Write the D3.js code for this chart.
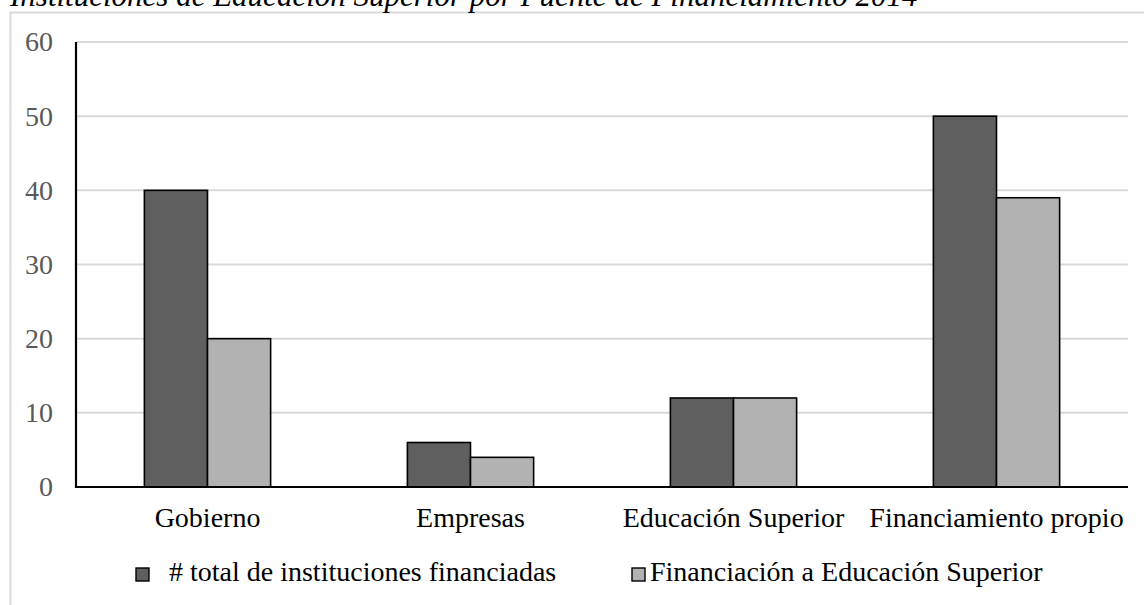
<!DOCTYPE html>
<html>
<head>
<meta charset="utf-8">
<script src="https://cdn.jsdelivr.net/npm/d3@7/dist/d3.min.js"></script>
<style>
  html, body { margin: 0; padding: 0; background: #fff; overflow: hidden; }
  svg { display: block; font-family: "Liberation Serif", "Times New Roman", serif; }
</style>
</head>
<body>
<svg id="chart" width="1144" height="605"></svg>
<script>
// Funding sources and series
const categories = ["Gobierno", "Empresas", "Educación Superior", "Financiamiento propio"];
const seriesNames = ["# total de instituciones financiadas", "Financiación a Educación Superior"];
const totalInstituciones = [40, 6, 12, 50];
const financiacionEducacion = [20, 4, 12, 39];
const yTicks = [0, 10, 20, 30, 40, 50, 60];
const titleText = "Instituciones de Educación Superior por Fuente de Financiamiento 2014";

const seriesValues = [totalInstituciones, financiacionEducacion];
const seriesColors = ["#5f5f5f", "#b2b2b2"];

const svg = d3.select("#chart");
const plot = { left: 76, right: 1128, top: 42, bottom: 487 };
const labelSize = 28;

// Outer frame of the chart area
svg.append("rect")
  .attr("x", 10.5).attr("y", 12.5)
  .attr("width", 1200).attr("height", 700)
  .attr("fill", "#fff").attr("stroke", "#d9d9d9").attr("stroke-width", 2);

// Caption, sitting just above the frame
svg.append("text")
  .attr("x", 10).attr("y", 6)
  .attr("font-style", "italic")
  .attr("font-size", 31)
  .attr("fill", "#000")
  .text(titleText);

const x0 = d3.scaleBand()
  .domain(categories)
  .range([plot.left, plot.right])
  .paddingInner(0.52)
  .paddingOuter(0.26);

const x1 = d3.scaleBand()
  .domain(d3.range(seriesNames.length))
  .range([0, x0.bandwidth()]);

const y = d3.scaleLinear()
  .domain([0, 60])
  .range([plot.bottom, plot.top]);

// Horizontal gridlines
svg.append("g")
  .selectAll("line")
  .data(yTicks.filter(t => t > 0))
  .join("line")
  .attr("x1", plot.left).attr("x2", plot.right)
  .attr("y1", d => y(d)).attr("y2", d => y(d))
  .attr("stroke", "#d9d9d9").attr("stroke-width", 2);

// Y axis labels
const yAxis = d3.axisLeft(y).tickValues(yTicks).tickSize(0).tickPadding(23);
const gy = svg.append("g")
  .attr("transform", `translate(${plot.left},0)`)
  .call(yAxis);
gy.select(".domain").remove();
gy.selectAll("text")
  .attr("font-family", "Liberation Serif, Times New Roman, serif")
  .attr("font-size", labelSize)
  .attr("fill", "#595959")
  .attr("dy", "0.32em");

// Bars
const groups = svg.append("g")
  .selectAll("g")
  .data(categories)
  .join("g")
  .attr("transform", d => `translate(${x0(d)},0)`);

groups.selectAll("rect")
  .data((d, i) => seriesValues.map((vals, s) => ({ s, v: vals[i] })))
  .join("rect")
  .attr("x", d => x1(d.s))
  .attr("y", d => y(d.v))
  .attr("width", x1.bandwidth())
  .attr("height", d => y(0) - y(d.v))
  .attr("fill", d => seriesColors[d.s])
  .attr("stroke", "#000")
  .attr("stroke-width", 1.6);

// Axis lines
svg.append("line")
  .attr("x1", plot.left).attr("x2", plot.left)
  .attr("y1", plot.top).attr("y2", plot.bottom + 1)
  .attr("stroke", "#000").attr("stroke-width", 2.2);
svg.append("line")
  .attr("x1", plot.left - 1).attr("x2", plot.right)
  .attr("y1", plot.bottom).attr("y2", plot.bottom)
  .attr("stroke", "#000").attr("stroke-width", 2.2);

// Category labels
const xAxis = d3.axisBottom(x0).tickSize(0).tickPadding(0);
const gx = svg.append("g")
  .attr("transform", `translate(0,${plot.bottom})`)
  .call(xAxis);
gx.select(".domain").remove();
gx.selectAll("text")
  .attr("font-family", "Liberation Serif, Times New Roman, serif")
  .attr("font-size", labelSize)
  .attr("fill", "#000")
  .attr("dy", null)
  .attr("y", 40);

// Legend
const legendItems = [
  { name: seriesNames[0], color: seriesColors[0], sx: 136, tx: 169 },
  { name: seriesNames[1], color: seriesColors[1], sx: 632, tx: 650 }
];
const lg = svg.append("g");
legendItems.forEach(item => {
  lg.append("rect")
    .attr("x", item.sx).attr("y", 568)
    .attr("width", 13).attr("height", 13)
    .attr("fill", item.color)
    .attr("stroke", "#000").attr("stroke-width", 1.4);
  lg.append("text")
    .attr("x", item.tx).attr("y", 581)
    .attr("font-size", labelSize)
    .attr("fill", "#000")
    .text(item.name);
});
</script>
</body>
</html>
